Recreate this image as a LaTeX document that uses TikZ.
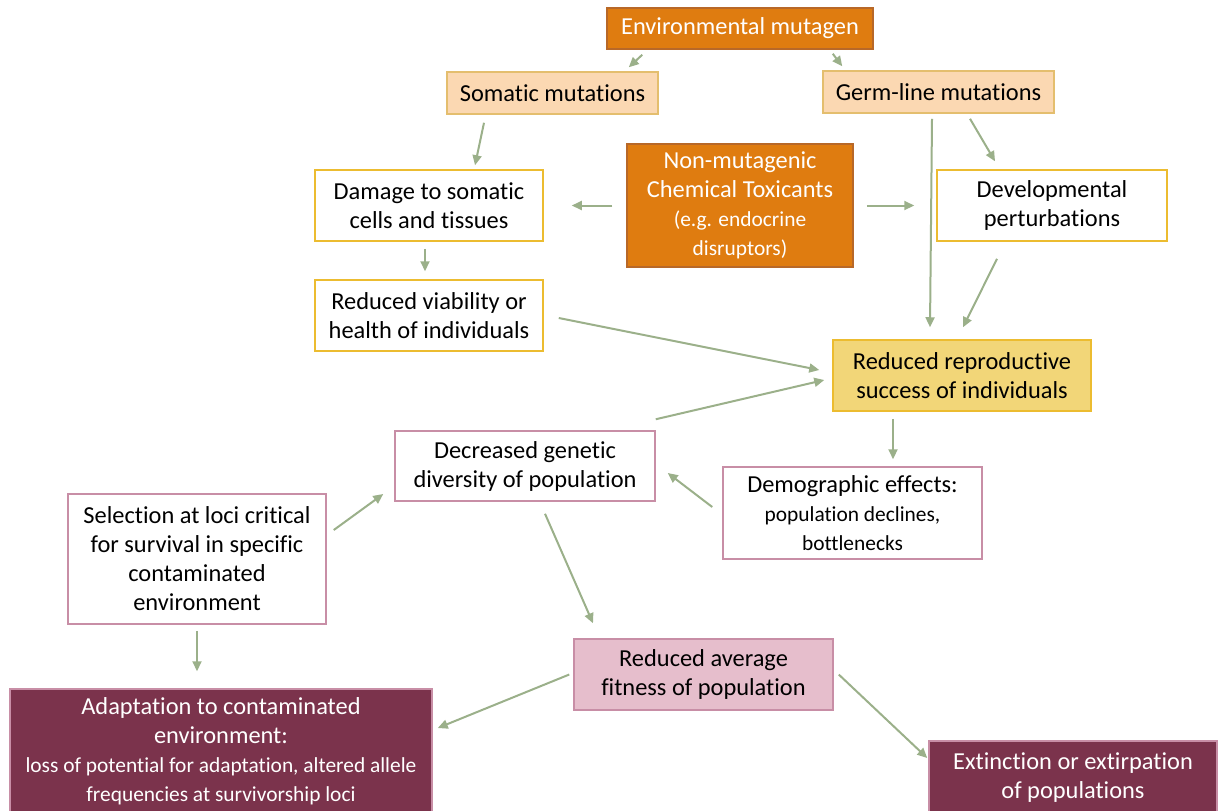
\documentclass[tikz,border=0pt]{standalone}
\usepackage{fontspec}
\setmainfont[Ligatures=NoCommon]{Carlito}
\usetikzlibrary{calc}
\usetikzlibrary{arrows.meta}
\definecolor{mutorange}{RGB}{223,124,16}
\definecolor{mutedge}{RGB}{184,104,40}
\definecolor{peach}{RGB}{251,216,178}
\definecolor{peachedge}{RGB}{228,190,110}
\definecolor{goldedge}{RGB}{236,188,48}
\definecolor{reprogold}{RGB}{242,214,120}
\definecolor{pinkedge}{RGB}{200,142,166}
\definecolor{fitpink}{RGB}{230,190,204}
\definecolor{maroon}{RGB}{123,51,76}
\definecolor{arrowgreen}{RGB}{155,176,138}
\newcommand{\smalltxt}{\fontsize{10.7}{12.5}\selectfont}
\tikzset{
  box/.style 2 args={rectangle, draw, line width=0.75pt, inner sep=0pt, align=center,
    minimum width=#1, minimum height=#2, font=\fontsize{12.2}{14.5}\selectfont},
  mutagen/.style={fill=mutorange, draw=mutedge, text=white},
  mutation/.style={fill=peach, draw=peachedge},
  effect/.style={fill=white, draw=goldedge},
  repro/.style={fill=reprogold, draw=goldedge},
  popeffect/.style={fill=white, draw=pinkedge},
  fitness/.style={fill=fitpink, draw=pinkedge},
  outcome/.style={fill=maroon, draw=pinkedge, text=white},
  link/.style={draw=arrowgreen, line width=1pt, -{Triangle[length=5pt,width=4.5pt]}}
}

\begin{document}
\begin{tikzpicture}[x=0.5pt,y=-0.5pt]
  \useasboundingbox (0,0) rectangle (1219,810);
  \clip (0,0) rectangle (1219,810);

  \node[box={133pt}{20.5pt}, mutagen] (env) at (740,28.5) {Environmental mutagen};
  \node[box={105.5pt}{21pt}, mutation] (som) at (552.5,93) {Somatic mutations};
  \node[box={115.5pt}{21pt}, mutation] (germ) at (938.5,92) {Germ-line mutations};

  \node[box={114pt}{35.5pt}, effect] (damage) at (429,205.5) {Damage to somatic\\cells and tissues};
  \node[box={113pt}{61.5pt}, mutagen] (nonmut) at (740,205.5) {Non-mutagenic\\Chemical Toxicants\\{\smalltxt (e.g. endocrine}\\{\smalltxt disruptors)}};
  \node[box={115pt}{35.5pt}, effect] (dev) at (1052,205.5) {Developmental\\perturbations};
  \node[box={114pt}{35.5pt}, effect] (viab) at (429,315.5) {Reduced viability or\\health of individuals};
  \node[box={129pt}{35.5pt}, repro] (rep) at (962,375.5) {Reduced reproductive\\success of individuals};

  \node[box={130pt}{35pt}, popeffect] (decr) at (525,466) {Decreased genetic\\diversity of population};
  \node[box={129.5pt}{46pt}, popeffect] (demo) at (852.5,513) {Demographic effects:\\{\smalltxt population declines,}\\{\smalltxt bottlenecks}};
  \node[box={129pt}{65pt}, popeffect] (sel) at (197,559) {Selection at loci critical\\for survival in specific\\contaminated\\environment};
  \node[box={129.5pt}{35.5pt}, fitness] (avg) at (703.5,674.5) {Reduced average\\fitness of population};

  \node[box={211pt}{62.5pt}, outcome] (adapt) at (221,751.5) {Adaptation to contaminated\\environment:\\{\smalltxt loss of potential for adaptation, altered allele}\\{\smalltxt frequencies at survivorship loci}};
  \node[box={144pt}{36.5pt}, outcome] (ext) at (1073,777.5) {Extinction or extirpation\\of populations};

  \draw[link] ($(env.south west)+(36,5)$) -- ($(som.north east)+(-30,-4)$);
  \draw[link] ($(env.south east)+(-41,4)$) -- ($(germ.north west)+(20,-4)$);
  \draw[link] ($(som.south)+(-68.5,8)$) -- ($(damage.north)+(46,-4)$);
  \draw[link] ($(nonmut.west)+(-14,0)$) -- ($(damage.east)+(28,0)$);
  \draw[link] ($(nonmut.east)+(13,0)$) -- ($(dev.west)+(-22,0)$);
  \draw[link] ($(germ.south)+(31.5,5)$) -- ($(dev.north)+(-57,-8)$);
  \draw[link] ($(germ.south)+(-6.5,5)$) -- ($(rep.north)+(-32,-12)$);
  \draw[link] ($(dev.south)+(-55,17)$) -- ($(rep.north)+(1,-12)$);
  \draw[link] ($(damage.south)+(-4,7)$) -- ($(viab.north)+(-4,-8)$);
  \draw[link] ($(viab.east)+(15,2.5)$) -- ($(rep.west)+(-13,-5.5)$);

  \draw[link] ($(decr.north east)+(0,-11)$) -- ($(rep.west)+(-8,4.5)$);
  \draw[link] ($(rep.south)+(-69,7)$) -- ($(demo.north)+(40.5,-7)$);
  \draw[link] ($(demo.west)+(-10,-6)$) -- ($(decr.east)+(12,7)$);
  \draw[link] ($(sel.east)+(7,-29)$) -- ($(decr.west)+(-11,28)$);
  \draw[link] ($(decr.south)+(20,12)$) -- ($(avg.north)+(-110.5,-15)$);
  \draw[link] ($(sel.south)+(0,6)$) -- ($(adapt.north)+(-24,-17)$);
  \draw[link] ($(avg.west)+(-4,0)$) -- ($(adapt.east)+(5,-23.5)$);
  \draw[link] ($(avg.east)+(5,0)$) -- ($(ext.west)+(-1,-19.5)$);
\end{tikzpicture}
\end{document}
